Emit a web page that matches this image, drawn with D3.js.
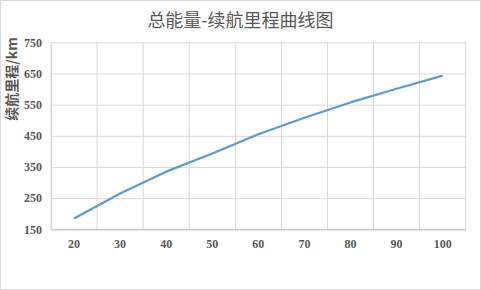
<!DOCTYPE html>
<html>
<head>
<meta charset="utf-8">
<script src="https://cdn.jsdelivr.net/npm/d3@7"></script>
<style>
  html, body { margin: 0; padding: 0; background: #fff; }
  #chart { width: 481px; height: 290px; }
</style>
</head>
<body>
<div id="chart"></div>
<script>
// total energy (x categories) vs range in km
const ENERGY = ["20", "30", "40", "50", "60", "70", "80", "90", "100"];
const RANGE_KM = [185, 265, 335, 393, 455, 508, 557, 601, 643];
const Y_TICKS = [150, 250, 350, 450, 550, 650, 750];

const TITLE = "总能量-续航里程曲线图";
const Y_LABEL = "续航里程/km";

const vw = 481, vh = 290;
const m = { l: 51, r: 15.3, t: 42.3, b: 60.7 };
const W = vw - m.l - m.r, H = vh - m.t - m.b;
const TICK_FONT = "'Liberation Serif', 'Times New Roman', serif";

const svg = d3.select("#chart").append("svg")
  .attr("width", vw).attr("height", vh)
  .style("display", "block");

// outer chart border
svg.append("rect").attr("x", 0.5).attr("y", 0.5)
  .attr("width", vw - 1).attr("height", vh - 1)
  .attr("fill", "#fff").attr("stroke", "#d9d9d9");

const g = svg.append("g").attr("transform", `translate(${m.l},${m.t})`);

const x = d3.scaleBand().domain(ENERGY).range([0, W]).padding(0);
const y = d3.scaleLinear().domain([150, 750]).range([H, 0]);

// horizontal grid
g.append("g").call(d3.axisLeft(y).tickValues(Y_TICKS).tickSize(-W).tickFormat(""))
  .call(gr => { gr.select(".domain").remove(); gr.selectAll("line").attr("stroke", "#d9d9d9"); });

// vertical grid at band edges
const edges = ENERGY.map(d => x(d)).concat([W]);
g.selectAll(".vgrid").data(edges).enter().append("line")
  .attr("x1", d => d).attr("x2", d => d).attr("y1", 0).attr("y2", H)
  .attr("stroke", "#d9d9d9");

// bottom axis
g.append("g").attr("transform", `translate(0,${H})`)
  .call(d3.axisBottom(x).tickSize(0).tickPadding(10))
  .call(ax => {
    ax.select(".domain").attr("stroke", "#bfbfbf");
    ax.selectAll("text").style("font-family", TICK_FONT)
      .style("font-weight", "bold").style("font-size", "12px").style("fill", "#595959");
  });

// left axis
g.append("g")
  .call(d3.axisLeft(y).tickValues(Y_TICKS).tickSize(0).tickPadding(9))
  .call(ax => {
    ax.select(".domain").attr("stroke", "#d9d9d9");
    ax.selectAll("text").style("font-family", TICK_FONT)
      .style("font-weight", "bold").style("font-size", "12px").style("fill", "#595959");
  });

// line
const lineGen = d3.line()
  .x((d, i) => x(ENERGY[i]) + x.bandwidth() / 2)
  .y(d => y(d));

g.append("path").datum(RANGE_KM)
  .attr("fill", "none").attr("stroke", "#5b9bd5")
  .attr("stroke-width", 2.25).attr("stroke-linejoin", "round")
  .attr("d", lineGen);

// title
svg.append("text").attr("x", 240.5).attr("y", 27)
  .attr("text-anchor", "middle")
  .style("font-family", "'Noto Sans CJK SC', sans-serif")
  .style("font-size", "18px").style("fill", "#595959")
  .text(TITLE);

// y label
svg.append("text").attr("transform", "translate(17,79) rotate(-90)")
  .attr("text-anchor", "middle")
  .style("font-family", "'Noto Sans CJK SC', sans-serif")
  .style("font-weight", "bold").style("font-size", "14px").style("fill", "#595959")
  .text(Y_LABEL);
</script>
</body>
</html>
